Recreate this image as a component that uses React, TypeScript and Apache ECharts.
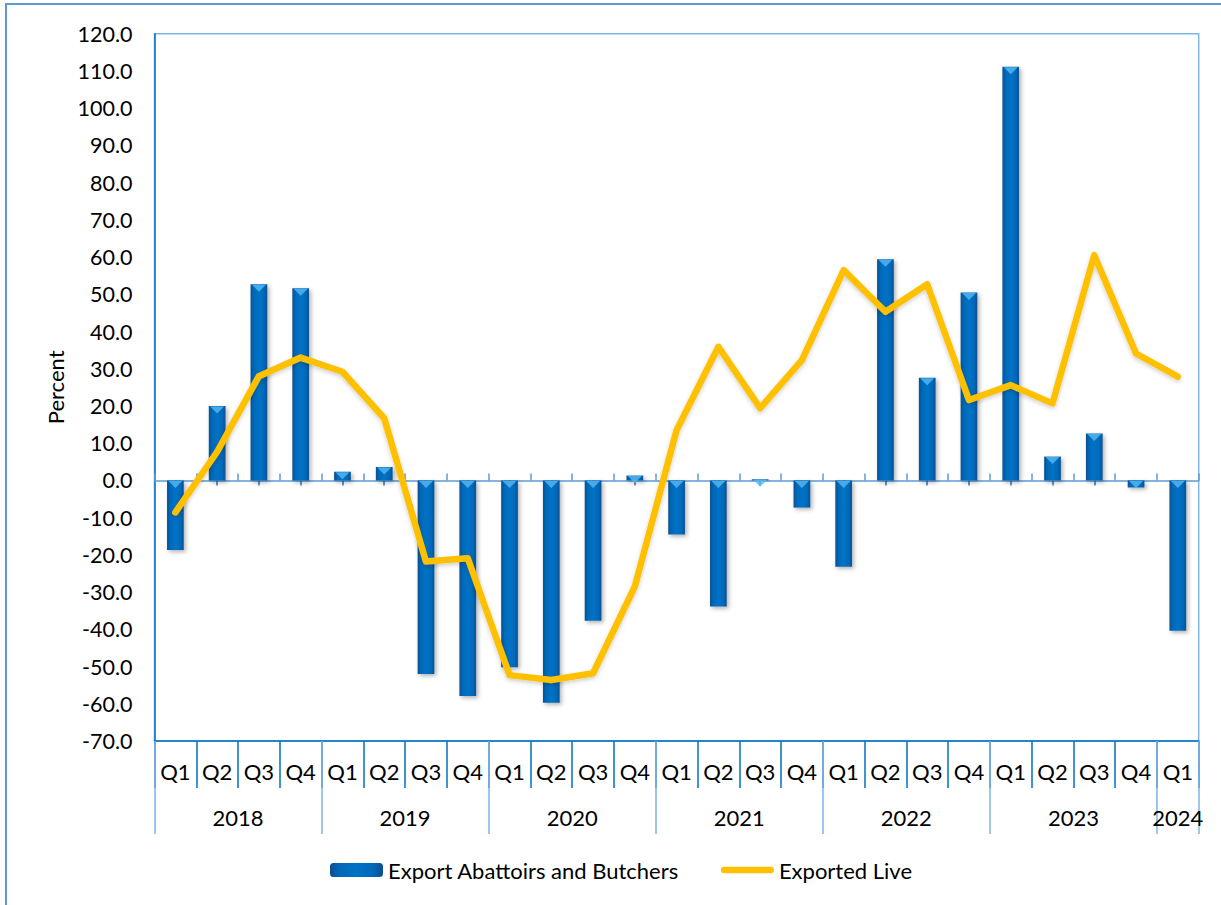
import React, { useEffect, useRef } from "react";
import * as echarts from "echarts";

const quarters = [
  "Q1", "Q2", "Q3", "Q4",
  "Q1", "Q2", "Q3", "Q4",
  "Q1", "Q2", "Q3", "Q4",
  "Q1", "Q2", "Q3", "Q4",
  "Q1", "Q2", "Q3", "Q4",
  "Q1", "Q2", "Q3", "Q4",
  "Q1",
];
const years = ["2018", "2019", "2020", "2021", "2022", "2023", "2024"];
const quartersPerYear = [4, 4, 4, 4, 4, 4, 1];

const abattoirs = [
  -18.7, 20.0, 52.7, 51.6,
  2.3, 3.6, -52.0, -57.9,
  -50.2, -59.7, -37.7, 1.3,
  -14.5, -33.9, 0.3, -7.3,
  -23.2, 59.4, 27.6, 50.5,
  111.1, 6.4, 12.6, -1.9,
  -40.4,
];
const exportedLive = [
  -8.6, 7.7, 28.0, 33.0,
  29.2, 16.7, -21.8, -20.9,
  -52.3, -53.6, -51.8, -28.5,
  13.5, 35.9, 19.4, 32.3,
  56.5, 45.3, 52.7, 21.6,
  25.6, 20.7, 60.5, 34.1,
  27.9,
];

const FONT = "Lato";

export default function App() {
  const ref = useRef<HTMLDivElement>(null);
  useEffect(() => {
    if (!ref.current) return;
    const chart = echarts.init(ref.current, null, { renderer: "svg" });

    const bounds: number[] = [0];
    quartersPerYear.forEach((n) => bounds.push(bounds[bounds.length - 1] + n));
    const centers = years.map((_, i) => (bounds[i] + bounds[i + 1]) / 2);
    const total = bounds[bounds.length - 1];

    const barGrad = new echarts.graphic.LinearGradient(0, 0, 1, 0, [
      { offset: 0, color: "#0B4F8E" },
      { offset: 0.18, color: "#0068B8" },
      { offset: 0.5, color: "#0072C6" },
      { offset: 0.82, color: "#0068B8" },
      { offset: 1, color: "#0B4F8E" },
    ]);

    chart.setOption({
      animation: false,
      textStyle: { fontFamily: FONT },
      graphic: [
        {
          type: "rect",
          shape: { x: 6, y: 4, width: 1400, height: 1100 },
          style: { fill: "none", stroke: "#5B9BD5", lineWidth: 2 },
          silent: true,
        },
      ],
      grid: {
        left: 154.5,
        top: 33.7,
        right: 22.3,
        bottom: 164,
        show: true,
        borderColor: "#7EB6E6",
        borderWidth: 1.5,
        containLabel: false,
      },
      legend: {
        left: 330,
        top: 859,
        padding: 0,
        itemWidth: 53,
        itemHeight: 14,
        itemGap: 42,
        textStyle: { fontFamily: FONT, fontSize: 22, color: "#000" },
        data: [
          { name: "Export Abattoirs and Butchers" },
          {
            name: "Exported Live",
            icon: "path://M3.5,0 L53.5,0 A3.5,3.5 0 0 1 53.5,7 L3.5,7 A3.5,3.5 0 0 1 3.5,0 Z",
            itemStyle: { color: "#FFC000" },
          },
        ],
      },
      xAxis: [
        {
          type: "category",
          data: quarters,
          position: "bottom",
          axisLine: { onZero: false, lineStyle: { color: "#0070C0", width: 1.5 } },
          axisTick: { show: true, interval: 0, length: 47, lineStyle: { color: "#0070C0", width: 1.5 } },
          axisLabel: { interval: 0, margin: 19, color: "#000", fontSize: 22, fontFamily: FONT },
          splitLine: { show: false },
        },
        {
          type: "value",
          min: 0,
          max: total,
          position: "bottom",
          axisLine: { show: false, onZero: false },
          axisTick: {
            show: true,
            length: 93,
            customValues: bounds,
            lineStyle: { color: "#7FB3E3", width: 1.5 },
          },
          axisLabel: {
            show: true,
            customValues: centers,
            margin: 65,
            color: "#000",
            fontSize: 22,
            fontFamily: FONT,
            formatter: (v: number) => {
              const i = centers.findIndex((c) => Math.abs(c - v) < 1e-6);
              return i >= 0 ? years[i] : "";
            },
          },
          splitLine: { show: false },
        },
        {
          type: "category",
          data: quarters,
          position: "bottom",
          axisLine: { show: true, onZero: true, onZeroAxisIndex: 0, lineStyle: { color: "#5B9BD5", width: 1.5 } },
          axisTick: { show: true, inside: true, interval: 0, length: 7, lineStyle: { color: "#5B9BD5", width: 1.5 } },
          axisLabel: { show: false },
          splitLine: { show: false },
        },
        {
          type: "category",
          data: quarters,
          position: "bottom",
          axisLine: { show: false, onZero: true, onZeroAxisIndex: 0 },
          axisTick: { show: true, alignWithLabel: true, interval: 0, length: 5, lineStyle: { color: "#2E75B6", width: 1.5 } },
          axisLabel: { show: false },
          splitLine: { show: false },
        },
      ],
      yAxis: {
        type: "value",
        min: -70,
        max: 120,
        interval: 10,
        name: "Percent",
        nameLocation: "middle",
        nameRotate: 90,
        nameGap: 88,
        nameTextStyle: { fontFamily: FONT, fontSize: 22, color: "#000" },
        axisLine: { show: true, onZero: false, lineStyle: { color: "#0070C0", width: 1.5 } },
        axisTick: { show: false },
        axisLabel: {
          margin: 22,
          color: "#000",
          fontSize: 21.5,
          fontFamily: FONT,
          formatter: (v: number) => v.toFixed(1),
        },
        splitLine: { show: false },
      },
      series: [
        {
          name: "Export Abattoirs and Butchers",
          type: "bar",
          data: abattoirs,
          barWidth: "40%",
          z: 2,
          itemStyle: {
            color: barGrad,
            shadowColor: "rgba(0,0,0,0.3)",
            shadowBlur: 4,
            shadowOffsetX: 2,
            shadowOffsetY: 2,
          },
        },
        {
          type: "scatter",
          data: abattoirs.map((v) => Math.max(v, 0)),
          symbol: "triangle",
          symbolRotate: 180,
          symbolSize: [14, 7],
          symbolOffset: [0, 4],
          silent: true,
          z: 3,
          itemStyle: { color: "#58B9F2" },
          tooltip: { show: false },
        },
        {
          name: "Exported Live",
          type: "line",
          data: exportedLive,
          symbol: "none",
          showSymbol: false,
          z: 5,
          lineStyle: {
            color: "#FFC000",
            width: 6.5,
            cap: "round",
            join: "round",
            shadowColor: "rgba(0,0,0,0.2)",
            shadowBlur: 4,
            shadowOffsetY: 2,
          },
          itemStyle: { color: "#FFC000" },
        },
      ],
    });
    return () => chart.dispose();
  }, []);

  return (
    <div
      ref={ref}
      style={{ position: "fixed", left: 0, top: 0, width: 1221, height: 905, background: "#fff" }}
    />
  );
}
